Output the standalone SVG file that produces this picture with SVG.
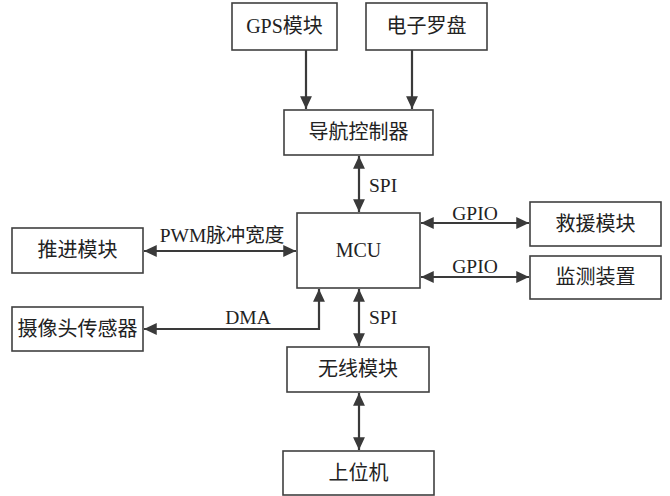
<svg xmlns="http://www.w3.org/2000/svg" width="670" height="496" viewBox="0 0 670 496">
<style>
.box{fill:#fff;stroke:#404040;stroke-width:1.6}
.t{font-family:"Liberation Serif","Noto Sans CJK SC",serif;font-size:20px;fill:#222;text-anchor:middle}
.l{font-family:"Liberation Serif","Noto Sans CJK SC",serif;font-size:19.5px;fill:#222}
.c{fill:none;stroke:#3a3a3a;stroke-width:2.2}
</style>
<defs>
<marker id="ah" viewBox="0 0 10 10" refX="10" refY="5" markerWidth="5.8" markerHeight="5.4" orient="auto-start-reverse" markerUnits="strokeWidth" preserveAspectRatio="none">
<path d="M0,0 L10,5 L0,10 Z" fill="#3a3a3a"/>
</marker>
</defs>
<rect width="670" height="496" fill="#fff"/>
<g id="connectors">
<line class="c" x1="306" y1="50" x2="306" y2="109" marker-end="url(#ah)"/>
<line class="c" x1="412" y1="50" x2="412" y2="109" marker-end="url(#ah)"/>
<line class="c" x1="359" y1="156" x2="359" y2="212" marker-start="url(#ah)" marker-end="url(#ah)"/>
<line class="c" x1="144" y1="251" x2="296" y2="251" marker-start="url(#ah)" marker-end="url(#ah)"/>
<polyline class="c" points="144,329 319,329 319,289" marker-start="url(#ah)" marker-end="url(#ah)"/>
<line class="c" x1="421" y1="223" x2="529" y2="223" marker-start="url(#ah)" marker-end="url(#ah)"/>
<line class="c" x1="421" y1="277" x2="529" y2="277" marker-start="url(#ah)" marker-end="url(#ah)"/>
<line class="c" x1="359" y1="289" x2="359" y2="346" marker-start="url(#ah)" marker-end="url(#ah)"/>
<line class="c" x1="359" y1="393" x2="359" y2="450" marker-start="url(#ah)" marker-end="url(#ah)"/>
<text class="l" x="369" y="192">SPI</text>
<text class="l" x="369" y="324">SPI</text>
<text class="l" x="222" y="242" text-anchor="middle">PWM脉冲宽度</text>
<text class="l" x="248" y="324" text-anchor="middle">DMA</text>
<text class="l" x="475" y="220" text-anchor="middle">GPIO</text>
<text class="l" x="475" y="273" text-anchor="middle">GPIO</text>
</g>
<g id="gps"><rect class="box" x="232" y="3" width="105" height="47"/><text class="t" x="284.5" y="33">GPS模块</text></g>
<g id="compass"><rect class="box" x="366" y="3" width="121" height="47"/><text class="t" x="426.5" y="33">电子罗盘</text></g>
<g id="nav"><rect class="box" x="284" y="110" width="149" height="45"/><text class="t" x="358.5" y="139">导航控制器</text></g>
<g id="mcu"><rect class="box" x="297" y="213" width="123" height="75"/><text class="t" x="358.5" y="257">MCU</text></g>
<g id="thrust"><rect class="box" x="12" y="228" width="131" height="45"/><text class="t" x="77.5" y="257">推进模块</text></g>
<g id="camera"><rect class="box" x="12" y="307" width="131" height="44"/><text class="t" x="77.5" y="336">摄像头传感器</text></g>
<g id="rescue"><rect class="box" x="530" y="202" width="131" height="44"/><text class="t" x="595.5" y="231">救援模块</text></g>
<g id="monitor"><rect class="box" x="530" y="256" width="131" height="43"/><text class="t" x="595.5" y="284">监测装置</text></g>
<g id="wireless"><rect class="box" x="287" y="347" width="142" height="45"/><text class="t" x="358" y="376">无线模块</text></g>
<g id="host"><rect class="box" x="283" y="451" width="151" height="44"/><text class="t" x="358.5" y="480">上位机</text></g>
</svg>
